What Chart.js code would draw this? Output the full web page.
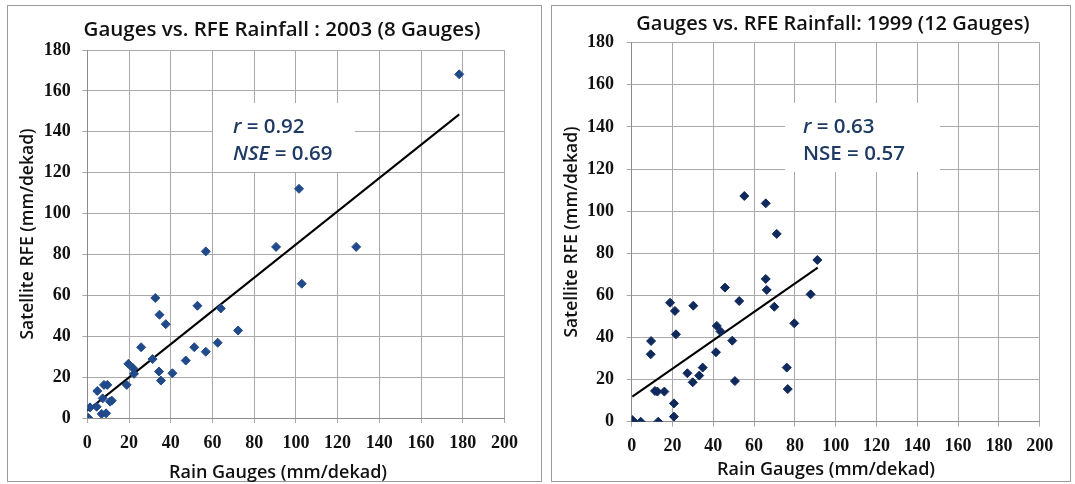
<!DOCTYPE html>
<html lang="en">
<head>
    <meta charset="UTF-8">
    <title>Gauges vs. RFE Rainfall</title>
    <script src="https://cdn.jsdelivr.net/npm/chart.js"></script>
    <style>
        body { margin: 0; background: #fff; width: 1075px; height: 484px; position: relative; overflow: hidden; }
        .panel { position: absolute; border: 1px solid #9a9a9a; box-sizing: border-box; }
        #panelLeft { left: 7px; top: 5px; width: 535px; height: 477px; }
        #panelRight { left: 551px; top: 5px; width: 520px; height: 477px; }
        canvas { position: absolute; }
        #chart2003 { left: 8px; top: 6px; }
        #chart1999 { left: 551px; top: 6px; }
    </style>
</head>
<body>
    <div class="panel" id="panelLeft"></div>
    <div class="panel" id="panelRight"></div>
    <canvas id="chart2003" width="534" height="476"></canvas>
    <canvas id="chart1999" width="520" height="476"></canvas>

    <script>
        // 2003 season (8 gauges)
        const rain2003 = [0.5, 1.3, 4.5, 4.8, 7.4, 8, 9.6, 6.9, 9, 10.9, 11.7, 18.9, 19.7, 22, 22.4, 25.8, 31.3, 32.6, 34.4, 34.6, 35.3, 37.6, 40.8, 47.2, 51.3, 52.8, 56.8, 56.8, 62.5, 64, 72.3, 90.5, 101.5, 102.8, 128.9, 178.3];
        const rfe2003 = [0, 5.2, 5.5, 13.2, 9.6, 16.2, 16.2, 2, 2.3, 8, 8.5, 16.2, 26.5, 24.3, 21.6, 34.6, 28.8, 58.7, 22.7, 50.5, 18.3, 45.9, 21.9, 28.1, 34.6, 54.9, 81.5, 32.4, 36.8, 53.6, 42.8, 83.7, 112.1, 65.7, 83.7, 168.1];
        const trendX2003 = [0, 178.3];
        const trendY2003 = [3.6, 148.5];

        // 1999 season (12 gauges)
        const rain1999 = [0.3, 0.5, 4.4, 13, 9.5, 9.3, 11.4, 12.6, 16, 18.8, 21.2, 21.7, 20.7, 20.7, 27.3, 30.2, 29.9, 33.1, 34.8, 41.3, 41.7, 43.6, 45.7, 49.3, 50.6, 52.7, 55.2, 65.7, 65.7, 66.2, 69.9, 71.1, 76, 76.5, 79.7, 87.7, 91];
        const rfe1999 = [0.8, 0, 0, 0, 38.3, 32, 14.6, 14.3, 14.3, 56.5, 52.6, 41.5, 8.7, 2.4, 23, 55.1, 18.7, 21.9, 25.7, 33, 45.5, 42.8, 63.7, 38.5, 19.3, 57.3, 107.2, 103.7, 67.8, 62.6, 54.6, 89.2, 25.7, 15.5, 46.7, 60.5, 76.8];
        const trendX1999 = [0.3, 91.2];
        const trendY1999 = [11.9, 73.2];

        // stats text, runs of [text, italic]
        const stats2003 = [[['r', true], [' = 0.92', false]], [['NSE', true], [' = 0.69', false]]];
        const stats1999 = [[['r', true], [' = 0.63', false]], [['NSE', false], [' = 0.57', false]]];

        const xTitle = 'Rain Gauges (mm/dekad)';
        const yTitle = 'Satellite RFE (mm/dekad)';

        const toPoints = (xs, ys) => xs.map((x, i) => ({ x: x, y: ys[i] }));

        // white box with r / NSE text, drawn over the grid
        const statBox = {
            id: 'statBox',
            beforeDatasetsDraw(chart, args, opts) {
                const ctx = chart.ctx;
                ctx.save();
                ctx.fillStyle = '#ffffff';
                ctx.fillRect(opts.x, opts.y, opts.w, opts.h);
                ctx.fillStyle = '#1f3a63';
                ctx.textBaseline = 'middle';
                opts.lines.forEach((runs, i) => {
                    let x = opts.x + opts.padX;
                    const y = opts.y + opts.firstY + i * opts.lineGap;
                    runs.forEach(run => {
                        ctx.font = (run[1] ? 'italic ' : '') + '600 20.5px "Open Sans"';
                        ctx.fillText(run[0], x, y);
                        x += ctx.measureText(run[0]).width;
                    });
                });
                ctx.restore();
            }
        };

        // chart title and axis titles, placed like the Excel originals
        const chartText = {
            id: 'chartText',
            afterDraw(chart, args, o) {
                const ctx = chart.ctx;
                ctx.save();
                ctx.fillStyle = '#111111';
                ctx.textAlign = 'center';
                ctx.textBaseline = 'middle';
                ctx.font = '600 ' + o.titleSize + 'px "Open Sans"';
                ctx.fillText(o.title, o.titleX, o.titleY);
                ctx.font = '600 18px "Open Sans"';
                ctx.fillText(xTitle, o.xTitleX, o.xTitleY);
                ctx.translate(o.yTitleX, o.yTitleY);
                ctx.rotate(-Math.PI / 2);
                ctx.font = '600 17.5px "Open Sans"';
                ctx.fillText(yTitle, 0, 0);
                ctx.restore();
            }
        };

        Chart.defaults.font.family = '"Open Sans", sans-serif';
        Chart.defaults.color = '#111111';

        function makeChart(id, cfg) {
            const ctx = document.getElementById(id).getContext('2d');
            return new Chart(ctx, {
                type: 'scatter',
                data: {
                    datasets: [
                        {
                            data: toPoints(cfg.xs, cfg.ys),
                            pointStyle: 'rectRot',
                            pointRadius: 4.5,
                            backgroundColor: cfg.color,
                            borderColor: cfg.color,
                            borderWidth: 1
                        },
                        {
                            data: toPoints(cfg.tx, cfg.ty),
                            showLine: true,
                            pointRadius: 0,
                            borderColor: '#000000',
                            borderWidth: 2
                        }
                    ]
                },
                options: {
                    responsive: false,
                    animation: false,
                    layout: { padding: { left: 0, right: cfg.padRight, top: cfg.padTop, bottom: 0 } },
                    plugins: {
                        legend: { display: false },
                        tooltip: { enabled: false },
                        title: { display: false },
                        statBox: cfg.box,
                        chartText: cfg.text
                    },
                    scales: {
                        x: {
                            type: 'linear',
                            min: 0,
                            max: 200,
                            afterFit: s => { s.height = cfg.xHeight; },
                            ticks: { stepSize: 20, padding: cfg.xTickPad, font: { family: '"Liberation Serif"', size: 18, weight: 'bold' } },
                            grid: { color: '#a9a9a9', tickLength: 5 },
                            border: { color: '#8c8c8c' }
                        },
                        y: {
                            type: 'linear',
                            min: 0,
                            max: 180,
                            afterFit: s => { s.width = cfg.yWidth; },
                            ticks: { stepSize: 20, padding: cfg.yTickPad, font: { family: '"Liberation Serif"', size: 18, weight: 'bold' } },
                            grid: { color: '#a9a9a9', tickLength: 5 },
                            border: { color: '#8c8c8c' }
                        }
                    }
                },
                plugins: [statBox, chartText]
            });
        }

        makeChart('chart2003', {
            xs: rain2003, ys: rfe2003, tx: trendX2003, ty: trendY2003,
            color: '#214a8a',
            padTop: 44, padRight: 37.5, xHeight: 64, yWidth: 79.3,
            xTickPad: 9.2, yTickPad: 11.6,
            box: { x: 205, y: 97, w: 142, h: 69, padX: 20, firstY: 23.7, lineGap: 27, lines: stats2003 },
            text: {
                title: 'Gauges vs. RFE Rainfall : 2003 (8 Gauges)', titleSize: 20.5,
                titleX: 274, titleY: 24, xTitleX: 270, xTitleY: 467, yTitleX: 20, yTitleY: 228
            }
        });

        makeChart('chart1999', {
            xs: rain1999, ys: rfe1999, tx: trendX1999, ty: trendY1999,
            color: '#10295c',
            padTop: 36.7, padRight: 31.3, xHeight: 60.3, yWidth: 80.7,
            xTickPad: 8.5, yTickPad: 12.7,
            box: { x: 234, y: 97, w: 155, h: 69, padX: 18, firstY: 23.7, lineGap: 27, lines: stats1999 },
            text: {
                title: 'Gauges vs. RFE Rainfall: 1999 (12 Gauges)', titleSize: 20,
                titleX: 282, titleY: 18, xTitleX: 275, xTitleY: 464, yTitleX: 21, yTitleY: 226
            }
        });
    </script>
</body>
</html>
